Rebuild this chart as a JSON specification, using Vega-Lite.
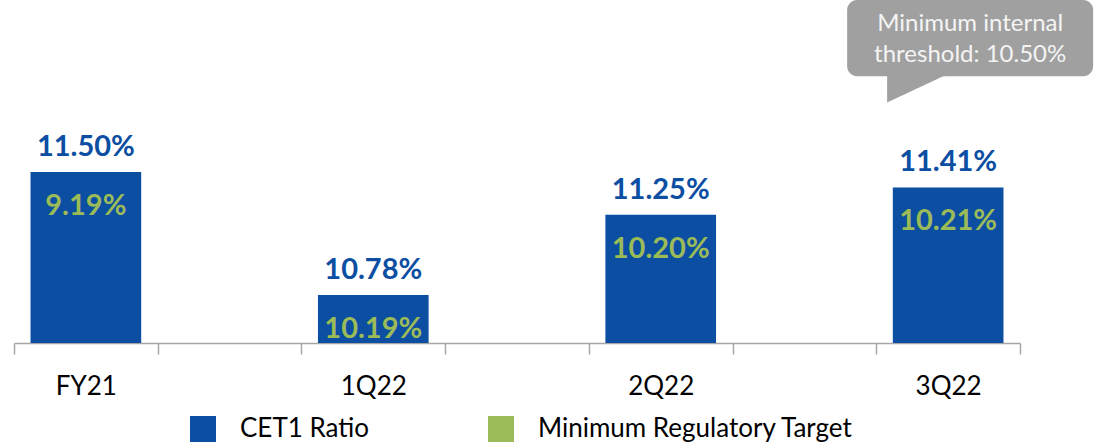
{
  "$schema": "https://vega.github.io/schema/vega-lite/v6.json",
  "width": 1006,
  "height": 343,
  "autosize": {"type": "none"},
  "padding": {"left": 14, "top": 0, "right": 74, "bottom": 104},
  "background": "white",
  "config": {"view": {"stroke": null}, "font": "Lato"},
  "data": {
    "values": [
      {"period": "FY21", "cet1": 0.115, "min_reg": 0.0919},
      {"period": "1Q22", "cet1": 0.1078, "min_reg": 0.1019},
      {"period": "2Q22", "cet1": 0.1125, "min_reg": 0.102},
      {"period": "3Q22", "cet1": 0.1141, "min_reg": 0.1021}
    ]
  },
  "layer": [
    {
      "mark": {"type": "bar", "width": {"band": 0.77}},
      "encoding": {
        "x": {
          "field": "period",
          "type": "nominal",
          "sort": null,
          "scale": {"domain": ["FY21", " ", "1Q22", "  ", "2Q22", "   ", "3Q22"], "paddingInner": 0, "paddingOuter": 0},
          "axis": {
            "title": null,
            "tickBand": "extent",
            "domainColor": "#A6A6A6",
            "domainWidth": 1.5,
            "tickColor": "#A6A6A6",
            "tickWidth": 1.5,
            "tickSize": 11,
            "labelFontSize": 26,
            "labelFont": "Lato",
            "labelColor": "#000000",
            "labelPadding": 19,
            "labelAngle": 0,
            "grid": false
          }
        },
        "y": {
          "field": "cet1",
          "type": "quantitative",
          "scale": {"domain": [0.105, 0.12506], "zero": false, "nice": false},
          "axis": null
        },
        "y2": {"datum": 0.105},
        "color": {
          "datum": "CET1 Ratio",
          "type": "nominal",
          "scale": {"domain": ["CET1 Ratio", "Minimum Regulatory Target"], "range": ["#0B4EA2", "#9BBB59"]},
          "legend": {
            "title": null,
            "orient": "none",
            "legendX": 176,
            "legendY": 416,
            "direction": "horizontal",
            "symbolType": "square",
            "symbolSize": 676,
            "symbolStrokeWidth": 0,
            "labelFontSize": 26,
            "labelFont": "Lato",
            "labelColor": "#000000",
            "labelOffset": 24,
            "columnPadding": 118,
            "labelLimit": 600
          }
        }
      }
    },
    {
      "mark": {"type": "text", "font": "Lato", "fontWeight": "bold", "fontSize": 29, "color": "#0B4EA2", "baseline": "middle", "dy": -25},
      "encoding": {
        "x": {"field": "period", "type": "nominal"},
        "y": {"field": "cet1", "type": "quantitative"},
        "text": {"field": "cet1", "format": ".2%"}
      }
    },
    {
      "mark": {"type": "text", "font": "Lato", "fontWeight": "bold", "fontSize": 29, "color": "#9BBB59", "baseline": "middle", "dy": 34},
      "encoding": {
        "x": {"field": "period", "type": "nominal"},
        "y": {"field": "cet1", "type": "quantitative"},
        "text": {"field": "min_reg", "format": ".2%"}
      }
    },
    {
      "data": {"values": [{}]},
      "layer": [
        {
          "mark": {"type": "bar", "width": 246, "xOffset": 22, "cornerRadius": 10, "color": "#A0A0A0"},
          "encoding": {
            "x": {"datum": "3Q22", "type": "nominal"},
            "y": {"datum": 0.12506, "type": "quantitative"},
            "y2": {"datum": 0.1206}
          }
        },
        {
          "mark": {"type": "point", "shape": "M0,-0.1 L0,0.83 L2,-0.1 Z", "size": 3969, "filled": true, "opacity": 1, "color": "#A0A0A0", "strokeWidth": 0, "xOffset": -61},
          "encoding": {
            "x": {"datum": "3Q22", "type": "nominal"},
            "y": {"datum": 0.1206, "type": "quantitative"}
          }
        },
        {
          "mark": {"type": "text", "font": "Lato", "fontSize": 24, "color": "#F4F4F4", "align": "center", "baseline": "middle", "lineHeight": 31, "xOffset": 22, "text": ["Minimum internal", "threshold: 10.50%"]},
          "encoding": {
            "x": {"datum": "3Q22", "type": "nominal"},
            "y": {"datum": 0.12366, "type": "quantitative"}
          }
        }
      ]
    }
  ]
}
